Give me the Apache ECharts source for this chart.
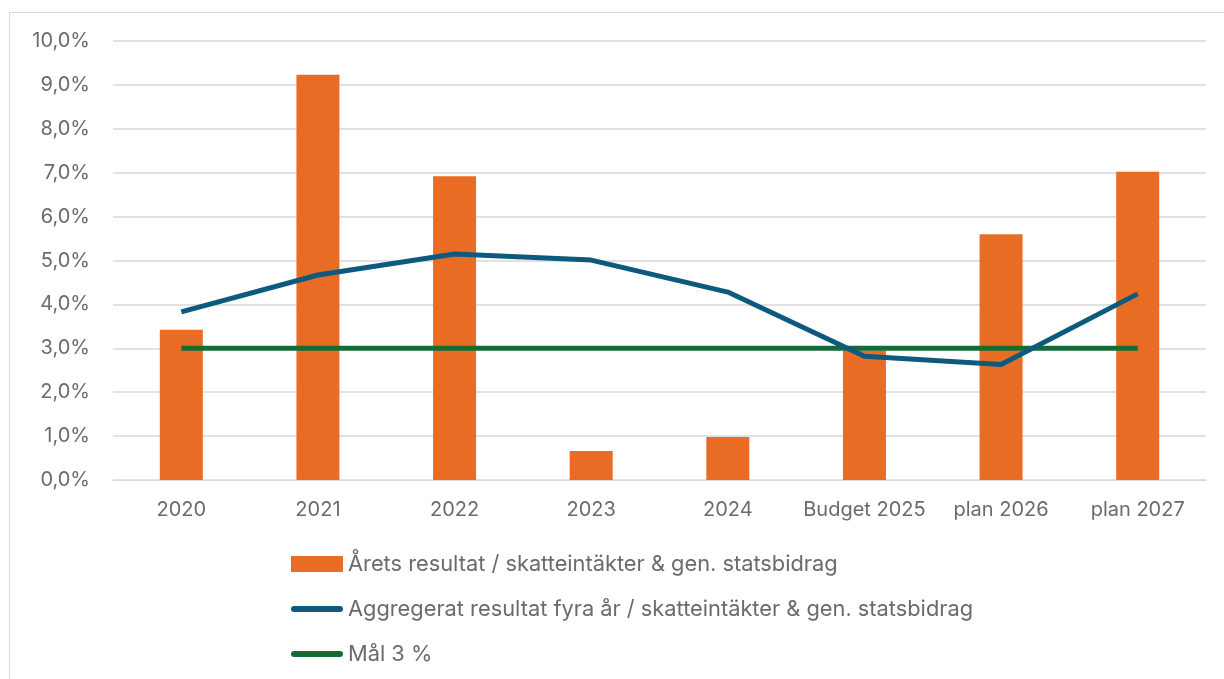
<!DOCTYPE html>
<html>
<head>
<meta charset="utf-8">
<script src="https://cdn.jsdelivr.net/npm/echarts@6/dist/echarts.min.js"></script>
<style>
  html, body { margin: 0; padding: 0; background: #fff; }
  #chart { width: 1224px; height: 679px; }
</style>
</head>
<body>
<div id="chart"></div>
<script>
  // kategorier och värden (procent)
  const categories = ["2020", "2021", "2022", "2023", "2024", "Budget 2025", "plan 2026", "plan 2027"];
  const aretsResultat = [3.42, 9.23, 6.92, 0.66, 0.98, 2.95, 5.60, 7.02];
  const aggregerat = [3.83, 4.67, 5.15, 5.01, 4.28, 2.82, 2.63, 4.24];
  const mal = [3, 3, 3, 3, 3, 3, 3, 3];
  const seriesNames = [
    "Årets resultat / skatteintäkter & gen. statsbidrag",
    "Aggregerat resultat fyra år / skatteintäkter & gen. statsbidrag",
    "Mål 3 %",
  ];

  const textColor = "#6b6b6b";
  const font = "Inter, 'Noto Sans', sans-serif";
  const blue = "#0d5a7e";
  const green = "#156b35";
  // tunn rundad linje som legendsymbol
  const lineIcon = "path://M3,0 L49,0 A3,3 0 0 1 49,6 L3,6 A3,3 0 0 1 3,0 Z";

  const chart = echarts.init(document.getElementById("chart"));
  chart.setOption({
    animation: false,
    textStyle: { fontFamily: font },
    graphic: [
      {
        type: "rect",
        shape: { x: 9.5, y: 12.5, width: 1300, height: 800 },
        style: { fill: "none", stroke: "#d9d9d9", lineWidth: 1 },
        silent: true,
      },
    ],
    grid: {
      left: 113,
      right: 18,
      top: 41,
      bottom: 199,
    },
    legend: {
      orient: "vertical",
      left: 286,
      top: 548,
      itemGap: 23,
      itemWidth: 52,
      itemHeight: 16,
      textStyle: { color: textColor, fontSize: 21.8, fontFamily: font },
      data: [
        { name: seriesNames[0], icon: "rect" },
        { name: seriesNames[1], icon: lineIcon },
        { name: seriesNames[2], icon: lineIcon },
      ],
    },
    xAxis: {
      type: "category",
      data: categories,
      axisTick: { show: false },
      axisLine: { lineStyle: { color: "#d9d9d9", width: 1 } },
      axisLabel: { color: textColor, fontSize: 20, margin: 20, interval: 0 },
    },
    yAxis: {
      type: "value",
      min: 0,
      max: 10,
      interval: 1,
      axisLine: { show: false },
      axisTick: { show: false },
      splitLine: { lineStyle: { color: "#d9d9d9", width: 1.5 } },
      axisLabel: {
        color: textColor,
        fontSize: 20,
        margin: 23,
        formatter: (v) => v.toFixed(1).replace(".", ",") + "%",
      },
    },
    series: [
      {
        name: seriesNames[0],
        type: "bar",
        data: aretsResultat,
        barWidth: 43,
        itemStyle: { color: "#e96c25" },
        z: 1,
      },
      {
        name: seriesNames[1],
        type: "line",
        data: aggregerat,
        symbol: "none",
        lineStyle: { color: blue, width: 5 },
        itemStyle: { color: blue },
        z: 3,
      },
      {
        name: seriesNames[2],
        type: "line",
        data: mal,
        symbol: "none",
        lineStyle: { color: green, width: 5 },
        itemStyle: { color: green },
        z: 2,
      },
    ],
  });
</script>
</body>
</html>
